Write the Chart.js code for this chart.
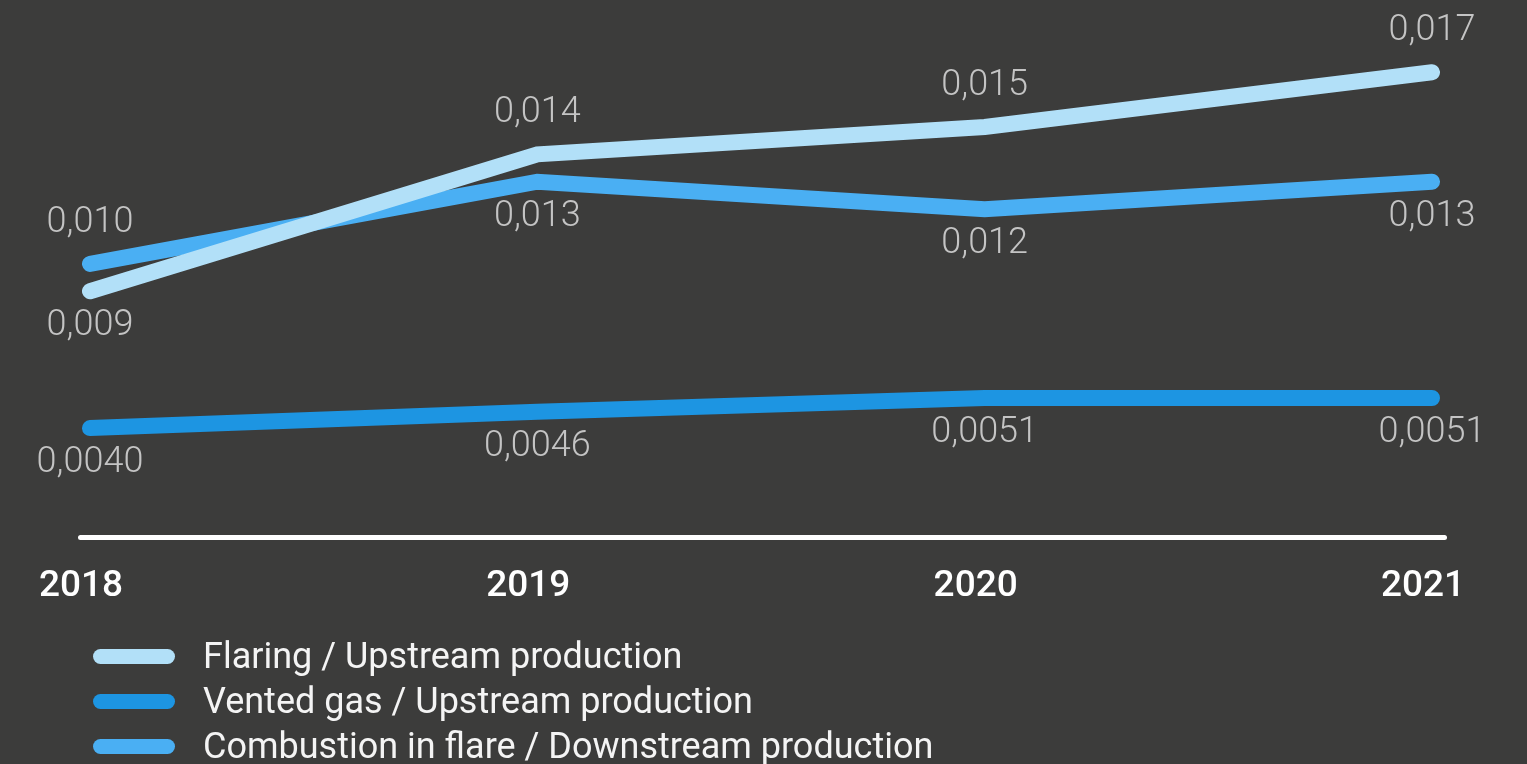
<!DOCTYPE html>
<html>
<head>
<meta charset="utf-8">
<title>Flaring and venting intensity</title>
<script src="https://cdn.jsdelivr.net/npm/chart.js@4.4.1/dist/chart.umd.min.js"></script>
<style>
    html, body {
        margin: 0;
        padding: 0;
        background: #3c3c3b;
        overflow: hidden;
    }
    .wrap {
        position: relative;
        width: 1527px;
        height: 764px;
    }
    #intensityChart {
        position: absolute;
        left: 0;
        top: 0;
    }
    .legend {
        position: absolute;
        left: 93px;
        top: 634px;
        margin: 0;
        padding: 0;
        list-style: none;
        font-family: Roboto, sans-serif;
        font-size: 36px;
        color: #f4f4f4;
    }
    .legend li {
        height: 45px;
        line-height: 45px;
        white-space: nowrap;
    }
    .legend .swatch {
        display: inline-block;
        width: 82px;
        height: 15px;
        border-radius: 8px;
        margin-right: 28px;
        vertical-align: middle;
        position: relative;
        top: -2px;
    }
</style>
</head>
<body>
<div class="wrap">
    <canvas id="intensityChart" width="1527" height="764"></canvas>
    <ul class="legend" id="legend"></ul>
</div>

<script>
// Years and series values
const years = ['2018', '2019', '2020', '2021'];
const flaringUpstream = [0.009, 0.014, 0.015, 0.017];
const ventedUpstream = [0.0040, 0.0046, 0.0051, 0.0051];
const combustionDownstream = [0.010, 0.013, 0.012, 0.013];

const seriesNames = [
    'Flaring / Upstream production',
    'Vented gas / Upstream production',
    'Combustion in flare / Downstream production'
];
const seriesColors = ['#b2e0f8', '#1d95e2', '#4aaff3'];

// Draws the white baseline under the lines
const baselinePlugin = {
    id: 'baseline',
    beforeDatasetsDraw(chart) {
        const ctx = chart.ctx;
        const area = chart.chartArea;
        const y = chart.scales.y.getPixelForValue(0);
        ctx.save();
        ctx.strokeStyle = '#ffffff';
        ctx.lineWidth = 5;
        ctx.lineCap = 'round';
        ctx.beginPath();
        ctx.moveTo(area.left - 9.5, y);
        ctx.lineTo(area.right + 12.5, y);
        ctx.stroke();
        ctx.restore();
    }
};

// Value labels next to each point, decimal comma
const valueLabelPlugin = {
    id: 'valueLabels',
    afterDatasetsDraw(chart) {
        const ctx = chart.ctx;
        ctx.save();
        ctx.font = '300 36px Roboto, sans-serif';
        ctx.fillStyle = '#c4c4c4';
        ctx.textAlign = 'center';
        ctx.textBaseline = 'middle';
        chart.data.datasets.forEach((ds, i) => {
            const meta = chart.getDatasetMeta(i);
            meta.data.forEach((pt, j) => {
                const text = ds.data[j].toFixed(ds.decimals).replace('.', ',');
                const dy = ds.labelPos[j] === 'top' ? -41 : 35;
                ctx.fillText(text, pt.x, pt.y + dy);
            });
        });
        ctx.restore();
    }
};

const ctx = document.getElementById('intensityChart').getContext('2d');
new Chart(ctx, {
    type: 'line',
    data: {
        labels: years,
        datasets: [{
            label: seriesNames[0],
            data: flaringUpstream,
            borderColor: seriesColors[0],
            decimals: 3,
            labelPos: ['bottom', 'top', 'top', 'top']
        }, {
            label: seriesNames[1],
            data: ventedUpstream,
            borderColor: seriesColors[1],
            decimals: 4,
            labelPos: ['bottom', 'bottom', 'bottom', 'bottom']
        }, {
            label: seriesNames[2],
            data: combustionDownstream,
            borderColor: seriesColors[2],
            decimals: 3,
            labelPos: ['top', 'bottom', 'bottom', 'bottom']
        }]
    },
    options: {
        responsive: false,
        animation: false,
        layout: {
            padding: { left: 90, right: 95, top: 17.5, bottom: 128 }
        },
        elements: {
            line: {
                borderWidth: 16,
                borderCapStyle: 'round',
                borderJoinStyle: 'miter',
                tension: 0,
                fill: false
            },
            point: { radius: 0, hoverRadius: 0 }
        },
        plugins: {
            legend: { display: false },
            tooltip: { enabled: false }
        },
        scales: {
            x: {
                offset: false,
                grid: { display: false, drawTicks: false },
                border: { display: false },
                ticks: {
                    color: '#ffffff',
                    font: { family: 'Roboto', size: 37, weight: '500' },
                    padding: 27,
                    labelOffset: -9,
                    maxRotation: 0
                }
            },
            y: {
                display: false,
                min: 0,
                max: 0.019
            }
        }
    },
    plugins: [baselinePlugin, valueLabelPlugin]
});

// Legend rows with rounded line swatches
const legend = document.getElementById('legend');
seriesNames.forEach((name, i) => {
    const li = document.createElement('li');
    li.innerHTML = '<span class="swatch" style="background:' + seriesColors[i] + '"></span>' + name;
    legend.appendChild(li);
});
</script>
</body>
</html>
